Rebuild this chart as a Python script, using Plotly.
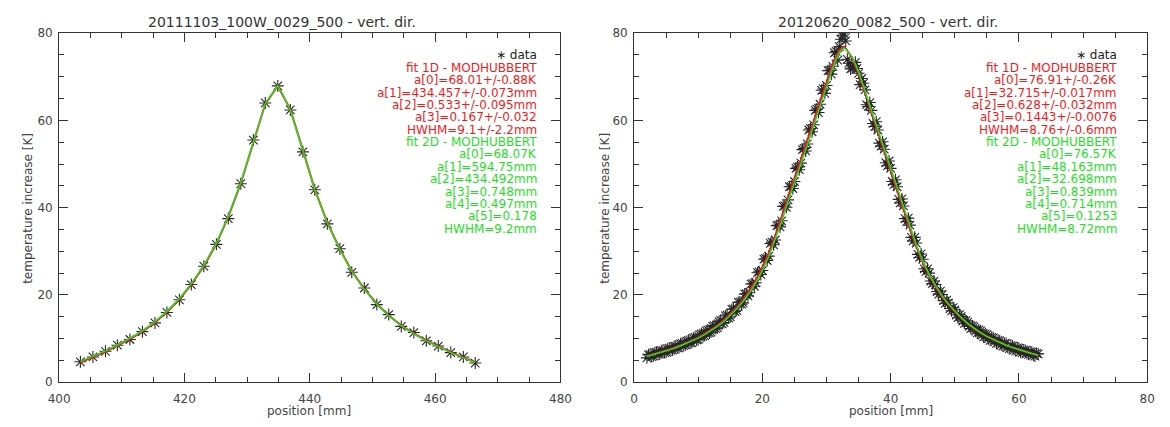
import plotly.graph_objects as go

# ---------------- data: 20111103_100W_0029_500 ----------------
left_pos = [403.4, 405.4, 407.4, 409.3, 411.3, 413.3, 415.3, 417.2, 419.2, 421.1,
            423.1, 425.1, 427.0, 429.0, 431.0, 432.9, 434.9, 436.9, 438.9, 440.8,
            442.8, 444.8, 446.7, 448.7, 450.7, 452.6, 454.6, 456.6, 458.6, 460.5,
            462.5, 464.5, 466.4]
left_temp = [4.7, 5.8, 7.1, 8.5, 9.8, 11.6, 13.6, 16.0, 18.9, 22.4,
             26.6, 31.6, 37.5, 45.5, 55.5, 64.0, 67.9, 62.4, 52.8, 44.1,
             36.3, 30.6, 25.2, 21.6, 17.8, 15.5, 12.8, 11.4, 9.5, 8.3,
             6.8, 5.8, 4.4]
left_fit1d = [4.6, 5.8, 7.0, 8.4, 9.9, 11.6, 13.7, 16.1, 19.0, 22.4,
              26.6, 31.7, 37.9, 45.6, 55.0, 63.8, 67.9, 62.5, 53.2, 44.2,
              36.6, 30.5, 25.5, 21.4, 18.0, 15.3, 13.0, 11.2, 9.6, 8.2,
              6.9, 5.7, 4.6]
left_fit2d = [4.8, 6.0, 7.2, 8.6, 10.1, 11.8, 13.9, 16.3, 19.2, 22.6,
              26.8, 31.9, 38.1, 45.8, 55.2, 63.9, 68.0, 62.4, 53.1, 44.1,
              36.5, 30.4, 25.4, 21.3, 17.9, 15.2, 12.9, 11.1, 9.5, 8.1,
              6.8, 5.6, 4.5]

# ---------------- data: 20120620_0082_500 ----------------
right_pos = [2.0, 2.5, 3.0, 3.5, 4.0, 4.5, 5.0, 5.5, 6.0, 6.5, 7.0, 7.5, 8.0, 8.5,
             9.0, 9.5, 10.0, 10.5, 11.0, 11.5, 12.0, 12.5, 13.0, 13.5, 14.0, 14.5,
             15.0, 15.5, 16.0, 16.5, 17.0, 17.5, 18.0, 18.5, 19.0, 19.5, 20.0, 20.5,
             21.0, 21.5, 22.0, 22.5, 23.0, 23.5, 24.0, 24.5, 25.0, 25.5, 26.0, 26.5,
             27.0, 27.5, 28.0, 28.5, 29.0, 29.5, 30.0, 30.5, 31.0, 31.5, 32.0, 32.5,
             33.0, 33.5, 34.0, 34.5, 35.0, 35.5, 36.0, 36.5, 37.0, 37.5, 38.0, 38.5,
             39.0, 39.5, 40.0, 40.5, 41.0, 41.5, 42.0, 42.5, 43.0, 43.5, 44.0, 44.5,
             45.0, 45.5, 46.0, 46.5, 47.0, 47.5, 48.0, 48.5, 49.0, 49.5, 50.0, 50.5,
             51.0, 51.5, 52.0, 52.5, 53.0, 53.5, 54.0, 54.5, 55.0, 55.5, 56.0, 56.5,
             57.0, 57.5, 58.0, 58.5, 59.0, 59.5, 60.0, 60.5, 61.0, 61.5, 62.0, 62.5,
             63.0]
right_temp = [5.6, 6.4, 6.0, 6.9, 6.5, 7.3, 6.9, 7.8, 7.4, 8.3, 7.9, 8.9, 8.6, 9.6,
              9.1, 10.3, 9.8, 11.1, 10.7, 12.0, 11.5, 13.0, 12.5, 14.2, 13.7, 15.4,
              15.0, 16.8, 16.5, 18.4, 18.2, 20.3, 20.5, 22.6, 22.8, 25.3, 25.6, 28.4,
              28.9, 32.1, 32.6, 36.0, 37.0, 40.4, 41.8, 44.9, 46.0, 49.3, 50.2, 53.6,
              54.6, 58.1, 59.0, 62.6, 63.7, 67.2, 68.0, 71.5, 72.4, 75.8, 76.9, 79.4,
              78.2, 73.1, 72.0, 73.3, 70.8, 69.6, 67.0, 63.2, 62.3, 58.6, 57.8, 54.1,
              53.4, 49.6, 49.0, 45.3, 44.8, 41.1, 40.4, 36.8, 36.0, 32.4, 31.9, 28.6,
              28.2, 25.4, 25.0, 22.6, 22.4, 20.2, 20.1, 18.1, 18.2, 16.4, 16.6, 14.8,
              15.1, 13.5, 13.8, 12.3, 12.7, 11.3, 11.8, 10.4, 10.9, 9.6, 10.2, 8.9,
              9.5, 8.3, 8.9, 7.7, 8.3, 7.2, 7.8, 6.8, 7.3, 6.4, 6.9, 6.0,
              6.5]
# second pass of readings, interleaved between the first
right_pos_b = [2.25, 2.75, 3.25, 3.75, 4.25, 4.75, 5.25, 5.75, 6.25, 6.75, 7.25, 7.75,
               8.25, 8.75, 9.25, 9.75, 10.25, 10.75, 11.25, 11.75, 12.25, 12.75, 13.25,
               13.75, 14.25, 14.75, 15.25, 15.75, 16.25, 16.75, 17.25, 17.75, 18.25,
               18.75, 19.25, 19.75, 20.25, 20.75, 21.25, 21.75, 22.25, 22.75, 23.25,
               23.75, 24.25, 24.75, 25.25, 25.75, 26.25, 26.75, 27.25, 27.75, 28.25,
               28.75, 29.25, 29.75, 30.25, 30.75, 31.25, 31.75, 32.25, 32.75, 33.25,
               33.75, 34.25, 34.75, 35.25, 35.75, 36.25, 36.75, 37.25, 37.75, 38.25,
               38.75, 39.25, 39.75, 40.25, 40.75, 41.25, 41.75, 42.25, 42.75, 43.25,
               43.75, 44.25, 44.75, 45.25, 45.75, 46.25, 46.75, 47.25, 47.75, 48.25,
               48.75, 49.25, 49.75, 50.25, 50.75, 51.25, 51.75, 52.25, 52.75, 53.25,
               53.75, 54.25, 54.75, 55.25, 55.75, 56.25, 56.75, 57.25, 57.75, 58.25,
               58.75, 59.25, 59.75, 60.25, 60.75, 61.25, 61.75, 62.25, 62.75]
right_temp_b = [6.3, 5.9, 6.8, 6.4, 7.2, 6.8, 7.7, 7.3, 8.2, 7.9, 8.8, 8.4,
                9.4, 9.0, 10.1, 9.7, 10.9, 10.5, 11.8, 11.3, 12.8, 12.3, 13.9,
                13.4, 15.2, 14.7, 16.7, 16.2, 18.3, 17.9, 20.2, 19.8, 22.5,
                22.0, 25.1, 24.7, 28.2, 27.9, 31.8, 31.5, 35.9, 35.6, 40.3,
                40.1, 44.8, 44.4, 49.0, 48.7, 53.3, 53.0, 57.8, 57.4, 62.3,
                61.8, 66.9, 66.2, 71.4, 70.6, 75.5, 73.8, 78.6, 79.8, 74.0,
                71.8, 72.5, 71.9, 68.2, 68.5, 63.6, 64.1, 59.3, 59.7, 54.8,
                55.1, 50.3, 50.7, 46.0, 46.4, 41.9, 42.0, 37.5, 37.6, 33.2,
                33.2, 29.3, 29.4, 26.0, 26.0, 23.2, 23.2, 20.8, 20.9, 18.7,
                18.8, 16.9, 17.1, 15.4, 15.5, 14.0, 14.1, 12.8, 12.9, 11.7,
                12.0, 10.8, 11.1, 10.0, 10.3, 9.3, 9.6, 8.6, 8.9, 8.0,
                8.4, 7.5, 7.9, 7.0, 7.4, 6.6, 7.0, 6.2, 6.6]
right_fit_pos = [2, 3, 4, 5, 6, 7, 8, 9, 10, 11, 12, 13, 14, 15, 16, 17, 18, 19, 20,
                 21, 22, 23, 24, 25, 26, 27, 28, 29, 30, 31, 32, 32.7, 33, 34, 35, 36,
                 37, 38, 39, 40, 41, 42, 43, 44, 45, 46, 47, 48, 49, 50, 51, 52, 53,
                 54, 55, 56, 57, 58, 59, 60, 61, 62, 63]
right_fit1d = [6.0, 6.4, 6.8, 7.25, 7.75, 8.3, 8.9, 9.5, 10.25, 11.1, 12.0, 13.0, 14.2,
               15.6, 17.1, 18.9, 21.0, 23.4, 26.3, 29.6, 33.5, 37.8, 42.5, 46.6, 50.9,
               55.3, 59.8, 64.3, 68.8, 73.0, 76.0, 76.9, 76.5, 74.3, 70.7, 66.2, 61.7,
               57.2, 52.7, 48.3, 44.1, 39.7, 35.2, 31.1, 27.5, 24.5, 21.9, 19.7, 17.8,
               16.2, 14.7, 13.4, 12.3, 11.4, 10.5, 9.8, 9.1, 8.5, 7.95, 7.45, 7.0, 6.6,
               6.2]
right_fit2d = [5.9, 6.3, 6.7, 7.15, 7.65, 8.2, 8.8, 9.4, 10.1, 10.9, 11.8, 12.8, 13.9,
               15.3, 16.8, 18.5, 20.5, 22.8, 25.6, 28.8, 32.6, 36.8, 41.4, 45.6, 49.9,
               54.3, 58.8, 63.3, 67.8, 72.1, 75.5, 76.6, 76.3, 74.6, 71.2, 66.8, 62.3,
               57.8, 53.3, 48.9, 44.6, 40.2, 35.7, 31.5, 27.9, 24.8, 22.2, 19.9, 18.0,
               16.3, 14.8, 13.5, 12.4, 11.4, 10.5, 9.8, 9.1, 8.5, 7.95, 7.45, 7.0, 6.6,
               6.2]

# ---------------- fit parameter labels ----------------
left_title = "20111103_100W_0029_500 - vert. dir."
right_title = "20120620_0082_500 - vert. dir."
left_fit1d_lines = ["fit 1D - MODHUBBERT", "a[0]=68.01+/-0.88K", "a[1]=434.457+/-0.073mm",
                    "a[2]=0.533+/-0.095mm", "a[3]=0.167+/-0.032", "HWHM=9.1+/-2.2mm"]
left_fit2d_lines = ["fit 2D - MODHUBBERT", "a[0]=68.07K", "a[1]=594.75mm", "a[2]=434.492mm",
                    "a[3]=0.748mm", "a[4]=0.497mm", "a[5]=0.178", "HWHM=9.2mm"]
right_fit1d_lines = ["fit 1D - MODHUBBERT", "a[0]=76.91+/-0.26K", "a[1]=32.715+/-0.017mm",
                     "a[2]=0.628+/-0.032mm", "a[3]=0.1443+/-0.0076", "HWHM=8.76+/-0.6mm"]
right_fit2d_lines = ["fit 2D - MODHUBBERT", "a[0]=76.57K", "a[1]=48.163mm", "a[2]=32.698mm",
                     "a[3]=0.839mm", "a[4]=0.714mm", "a[5]=0.1253", "HWHM=8.72mm"]

W, H = 1170, 427
RED = "#f01c1c"
GREEN = "#1fe01f"
DARK = "#262626"
AXC = "#333333"
FONT = "DejaVu Sans"


def px(xp):
    return xp / W


def py(yp):
    return 1 - yp / H


fig = go.Figure()


def add_panel(xs, ys, fx, f1, f2, xa, ya, msize):
    fig.add_trace(go.Scatter(x=xs, y=ys, mode="markers", xaxis=xa, yaxis=ya,
                             marker=dict(symbol="asterisk-open", size=msize, color=DARK,
                                         line=dict(color=DARK, width=1.1))))
    fig.add_trace(go.Scatter(x=fx, y=f1, mode="lines", xaxis=xa, yaxis=ya,
                             line=dict(color=RED, width=2)))
    fig.add_trace(go.Scatter(x=fx, y=f2, mode="lines", xaxis=xa, yaxis=ya,
                             line=dict(color=GREEN, width=1.5)))


add_panel(left_pos, left_temp, left_pos, left_fit1d, left_fit2d, "x", "y", 10)
add_panel(right_pos + right_pos_b, right_temp + right_temp_b,
          right_fit_pos, right_fit1d, right_fit2d, "x2", "y2", 10)

axis_common = dict(showline=True, linecolor=AXC, linewidth=1, mirror="ticks",
                   ticks="inside", ticklen=9, tickwidth=1, tickcolor=AXC,
                   showgrid=False, zeroline=False, dtick=20,
                   tickfont=dict(family=FONT, size=12, color="#444444"),
                   minor=dict(ticks="inside", ticklen=5, dtick=5, tickwidth=1,
                              tickcolor=AXC))

ydom = [py(388), py(27)]
fig.update_layout(
    width=W, height=H, autosize=False,
    margin=dict(l=0, r=0, t=0, b=0),
    paper_bgcolor="white", plot_bgcolor="white",
    showlegend=False,
    xaxis=dict(axis_common, domain=[px(49), px(560)], range=[400, 480], tick0=400,
               anchor="y", ticklabelstandoff=5),
    yaxis=dict(axis_common, domain=ydom, range=[0, 80], tick0=0, anchor="x",
               ticklabelstandoff=3),
    xaxis2=dict(axis_common, domain=[px(635), px(1158)], range=[0, 80], tick0=0,
                anchor="y2", ticklabelstandoff=5),
    yaxis2=dict(axis_common, domain=ydom, range=[0, 80], tick0=0, anchor="x2",
                ticklabelstandoff=3),
)

ann = []


def text(x, y, s, size=12, color="#444444", xanchor="center", angle=0, yanchor="middle"):
    ann.append(dict(x=px(x), y=py(y), xref="paper", yref="paper", text=s,
                    showarrow=False, xanchor=xanchor, yanchor=yanchor,
                    textangle=angle, font=dict(family=FONT, size=size, color=color)))


# panel titles
text(276, 15, left_title, size=14, color="#333333")
text(894, 15, right_title, size=14, color="#333333")
# axis titles, sitting on the bottom edge of the page
text(304, 427, "position [mm]", yanchor="bottom")
text(897, 427, "position [mm]", yanchor="bottom")
text(17, 208, "temperature increase [K]", angle=-90)
text(606, 208, "temperature increase [K]", angle=-90)


def fit_block(xr, l1, l2):
    y0, step, fs = 50, 12.8, 12
    text(xr, y0, "∗ data", size=fs, color="#222222", xanchor="right")
    for i, s in enumerate(l1):
        text(xr, y0 + step * (i + 1), s, size=fs, color=RED, xanchor="right")
    for i, s in enumerate(l2):
        text(xr, y0 + step * (i + 1 + len(l1)), s, size=fs, color=GREEN, xanchor="right")


fit_block(538, left_fit1d_lines, left_fit2d_lines)
fit_block(1129, right_fit1d_lines, right_fit2d_lines)

fig.update_layout(annotations=ann)
fig.write_html("out.html")
